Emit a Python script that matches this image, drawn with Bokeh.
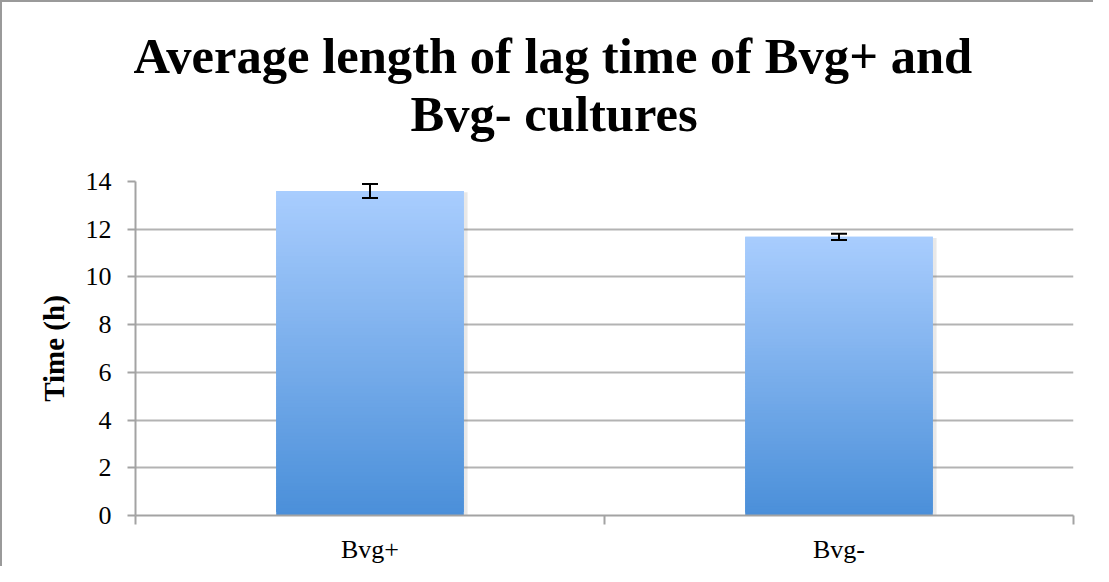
import numpy as np
from bokeh.plotting import figure
from bokeh.models import (Range1d, FixedTicker, LinearAxis, Whisker, TeeHead,
                          ColumnDataSource, Title)
from bokeh.embed import file_html
from bokeh.resources import INLINE

# ---------------- data ----------------
categories = ["Bvg+", "Bvg-"]
mean_lag = [13.6, 11.68]
err_lag = [0.29, 0.13]
y_ticks = [0, 2, 4, 6, 8, 10, 12, 14]
title_lines = ["Average length of lag time of Bvg+ and", "Bvg- cultures"]
y_label = "Time (h)"

FONT = "Liberation Serif"
GRID = "#B3B3B3"
AXIS = "#A3A3A3"

n = len(categories)
centers = [i + 0.5 for i in range(n)]
bar_w = 0.40

p = figure(width=1093, height=566, output_backend="svg", toolbar_location=None,
           x_range=Range1d(0, n), y_range=Range1d(0, 14),
           min_border_left=133, min_border_right=22, min_border_top=179,
           min_border_bottom=53, x_axis_type=None)
p.outline_line_color = None
p.background_fill_color = "white"
p.border_fill_color = "white"
p.styles = {"border-left": "2px solid #9A9A9A", "border-top": "2px solid #9A9A9A"}

# grid
p.xgrid.visible = False
p.ygrid.ticker = FixedTicker(ticks=y_ticks)
p.ygrid.grid_line_color = GRID
p.ygrid.grid_line_width = 2

# y axis
ya = p.yaxis[0]
ya.ticker = FixedTicker(ticks=y_ticks)
ya.axis_line_color = AXIS
ya.axis_line_width = 2
ya.major_tick_line_color = AXIS
ya.major_tick_line_width = 2
ya.major_tick_out = 8
ya.major_tick_in = 0
ya.minor_tick_line_color = None
ya.major_label_text_font = FONT
ya.major_label_text_font_size = "26px"
ya.major_label_text_color = "black"
ya.major_label_standoff = 16
ya.axis_label = y_label
ya.axis_label_text_font = FONT
ya.axis_label_text_font_style = "bold"
ya.axis_label_text_font_size = "29px"
ya.axis_label_text_color = "black"
ya.axis_label_standoff = 13

# x axis: boundary ticks
xa1 = LinearAxis(ticker=FixedTicker(ticks=list(range(n + 1))),
                 major_label_overrides={i: "" for i in range(n + 1)},
                 major_label_text_font_size="1px", major_label_standoff=0,
                 axis_line_color=AXIS, axis_line_width=2,
                 major_tick_line_color=AXIS, major_tick_line_width=2,
                 major_tick_out=9, major_tick_in=0, minor_tick_line_color=None)
# x axis: category labels
xa2 = LinearAxis(ticker=FixedTicker(ticks=centers),
                 major_label_overrides={c: lab for c, lab in zip(centers, categories)},
                 major_label_text_font=FONT, major_label_text_font_size="26px",
                 major_label_text_color="black", major_label_standoff=10,
                 axis_line_color=None, major_tick_line_color=None,
                 major_tick_out=0, major_tick_in=0, minor_tick_line_color=None)
p.add_layout(xa1, "below")
p.add_layout(xa2, "below")

# bars: vertical gradient, dark at bottom, light at top
top_c = np.array([0xA9, 0xCD, 0xFE], dtype=float)
bot_c = np.array([0x4A, 0x8F, 0xD9], dtype=float)
N = 90
L, R, B, T, C = [], [], [], [], []
for xc, m in zip(centers, mean_lag):
    for k in range(N):
        f = (k + 0.5) / N
        col = bot_c + (top_c - bot_c) * f
        L.append(xc - bar_w / 2)
        R.append(xc + bar_w / 2)
        B.append(m * k / N)
        T.append(m * min(1.0, (k + 2) / N))
        C.append("#%02x%02x%02x" % tuple(int(round(v)) for v in col))

# soft shadow on the right side of each bar
sh = ColumnDataSource(dict(l=[c - bar_w / 2 for c in centers],
                           r=[c + bar_w / 2 + 0.008 for c in centers],
                           t=[m - 0.05 for m in mean_lag],
                           b=[0 for _ in centers]))
p.quad(left="l", right="r", top="t", bottom="b", source=sh,
       fill_color="#7F7F7F", fill_alpha=0.18, line_color=None)

p.quad(left=L, right=R, bottom=B, top=T, fill_color=C, line_color=None)

# error bars
es = ColumnDataSource(dict(x=centers,
                           upper=[m + e for m, e in zip(mean_lag, err_lag)],
                           lower=[m - e for m, e in zip(mean_lag, err_lag)]))
w = Whisker(base="x", upper="upper", lower="lower", source=es, level="overlay",
            line_color="black", line_width=2,
            upper_head=TeeHead(size=16, line_color="black", line_width=2),
            lower_head=TeeHead(size=16, line_color="black", line_width=2))
p.add_layout(w)

# title: two lines stacked above a small spacer (closest to the plot)
spacer = Title(text=" ", standoff=0, text_font=FONT, text_font_size="34.5px")
t2 = Title(text=title_lines[1], align="left", offset=275, standoff=0,
           vertical_align="bottom", text_font=FONT, text_font_style="bold",
           text_font_size="50.6px", text_color="black")
t1 = Title(text=title_lines[0], align="left", offset=-2, standoff=0,
           vertical_align="bottom", text_font=FONT, text_font_style="bold",
           text_font_size="50.6px", text_color="black")
p.add_layout(spacer, "above")
p.add_layout(t2, "above")
p.add_layout(t1, "above")

open("out.html", "w").write(file_html(p, INLINE))
